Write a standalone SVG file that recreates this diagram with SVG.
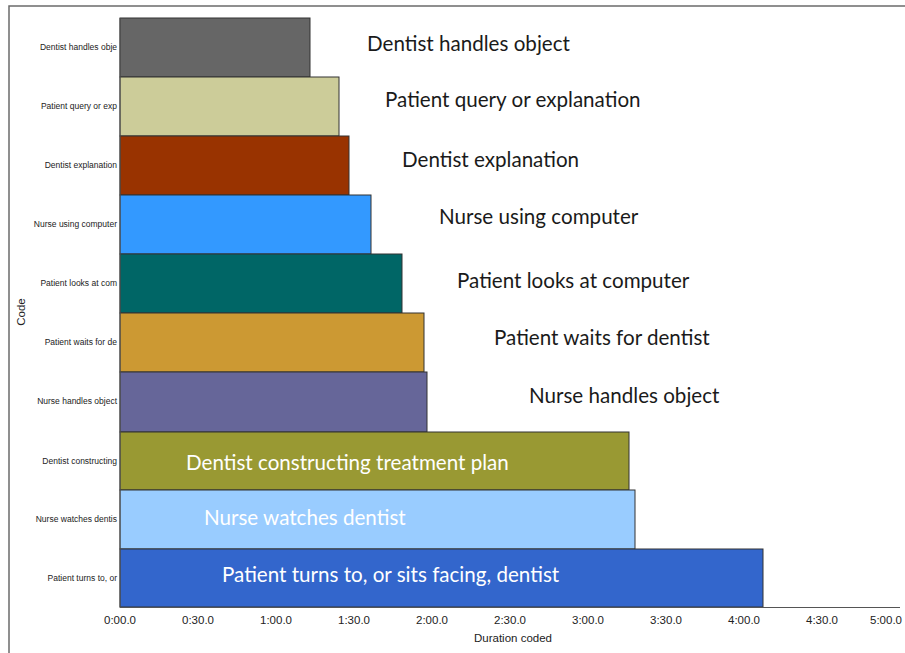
<svg xmlns="http://www.w3.org/2000/svg" width="905" height="653" viewBox="0 0 905 653">
  <style>
    .frame { fill: none; stroke: #6b6b6b; stroke-width: 1.5; }
    .axis { fill: none; stroke: #555555; stroke-width: 1; }
    .bar { stroke: #333333; stroke-width: 1; }
    .cat { font-family: "Liberation Sans", Arial, sans-serif; font-size: 8.5px; fill: #222222; text-anchor: end; }
    .tick { font-family: "Liberation Sans", Arial, sans-serif; font-size: 11.5px; fill: #222222; text-anchor: middle; }
    .title { font-family: "Liberation Sans", Arial, sans-serif; font-size: 11.5px; fill: #222222; text-anchor: middle; }
    .lbl { font-family: Lato, "Open Sans", sans-serif; font-size: 20.6px; fill: #1a1a1a; }
    .lbl.inv { fill: #ffffff; }
  </style>

  <rect width="905" height="653" fill="#ffffff"/>

  <!-- outer frame: top and left edges -->
  <polyline class="frame" points="9,653 9,6 905,6"/>

  <!-- bars, top to bottom -->
  <g id="bar-dentist-handles">
    <rect class="bar" x="120" y="18" width="190" height="59" fill="#666666"/>
    <text class="cat" x="117" y="50">Dentist handles obje</text>
    <text class="lbl" x="367" y="51">Dentist handles object</text>
  </g>
  <g id="bar-patient-query">
    <rect class="bar" x="120" y="77" width="219" height="59" fill="#cccc99"/>
    <text class="cat" x="117" y="109">Patient query or exp</text>
    <text class="lbl" x="385" y="107">Patient query or explanation</text>
  </g>
  <g id="bar-dentist-explanation">
    <rect class="bar" x="120" y="136" width="229" height="59" fill="#993300"/>
    <text class="cat" x="117" y="168">Dentist explanation</text>
    <text class="lbl" x="402" y="167">Dentist explanation</text>
  </g>
  <g id="bar-nurse-computer">
    <rect class="bar" x="120" y="195" width="251" height="59" fill="#3399ff"/>
    <text class="cat" x="117" y="227">Nurse using computer</text>
    <text class="lbl" x="439" y="224">Nurse using computer</text>
  </g>
  <g id="bar-patient-looks">
    <rect class="bar" x="120" y="254" width="282" height="59" fill="#006666"/>
    <text class="cat" x="117" y="286">Patient looks at com</text>
    <text class="lbl" x="457" y="288">Patient looks at computer</text>
  </g>
  <g id="bar-patient-waits">
    <rect class="bar" x="120" y="313" width="304" height="59" fill="#cc9933"/>
    <text class="cat" x="117" y="345">Patient waits for de</text>
    <text class="lbl" x="494" y="345">Patient waits for dentist</text>
  </g>
  <g id="bar-nurse-handles">
    <rect class="bar" x="120" y="372" width="307" height="60" fill="#666699"/>
    <text class="cat" x="117" y="404">Nurse handles object</text>
    <text class="lbl" x="529" y="403">Nurse handles object</text>
  </g>
  <g id="bar-dentist-constructing">
    <rect class="bar" x="120" y="432" width="509" height="58" fill="#999933"/>
    <text class="cat" x="117" y="464">Dentist constructing</text>
    <text class="lbl inv" x="186" y="470">Dentist constructing treatment plan</text>
  </g>
  <g id="bar-nurse-watches">
    <rect class="bar" x="120" y="490" width="515" height="59" fill="#99ccff"/>
    <text class="cat" x="117" y="522">Nurse watches dentis</text>
    <text class="lbl inv" x="204" y="525">Nurse watches dentist</text>
  </g>
  <g id="bar-patient-turns">
    <rect class="bar" x="120" y="549" width="643" height="58" fill="#3366cc"/>
    <text class="cat" x="117" y="581">Patient turns to, or</text>
    <text class="lbl inv" x="222" y="582">Patient turns to, or sits facing, dentist</text>
  </g>

  <!-- axes -->
  <g id="axes">
    <line class="axis" x1="120" y1="18" x2="120" y2="607.5"/>
    <line class="axis" x1="120" y1="607.5" x2="900" y2="607.5"/>
  </g>

  <!-- duration ticks, 30 s apart -->
  <g id="x-ticks">
    <text class="tick" x="120" y="624">0:00.0</text>
    <text class="tick" x="198" y="624">0:30.0</text>
    <text class="tick" x="276" y="624">1:00.0</text>
    <text class="tick" x="354" y="624">1:30.0</text>
    <text class="tick" x="432" y="624">2:00.0</text>
    <text class="tick" x="510" y="624">2:30.0</text>
    <text class="tick" x="588" y="624">3:00.0</text>
    <text class="tick" x="666" y="624">3:30.0</text>
    <text class="tick" x="744" y="624">4:00.0</text>
    <text class="tick" x="822" y="624">4:30.0</text>
    <text class="tick" x="886" y="624">5:00.0</text>
  </g>

  <g id="axis-titles">
    <text class="title" x="513" y="642">Duration coded</text>
    <text class="title" transform="translate(25,312) rotate(-90)">Code</text>
  </g>
</svg>
